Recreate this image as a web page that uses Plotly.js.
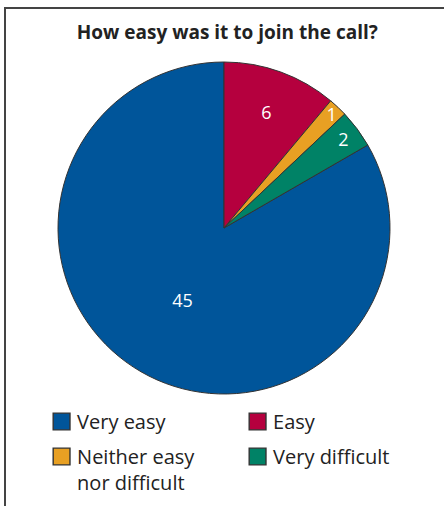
<!DOCTYPE html>
<html>
<head>
<meta charset="utf-8">
<script src="https://cdn.plot.ly/plotly-3.0.1.min.js"></script>
<style>
  html, body { margin: 0; padding: 0; background: #fff; }
  #wrap { position: relative; width: 444px; height: 506px; }
  #chart { width: 444px; height: 506px; }
  #frame { position: absolute; left: 4px; top: 7px; right: 0; bottom: 0;
           border-left: 2px solid #444; border-top: 2px solid #444; pointer-events: none; }
</style>
</head>
<body>
<div id="wrap"><div id="chart"></div><div id="frame"></div></div>
<script>
const categories = ["Very easy", "Easy", "Neither easy<br>nor difficult", "Very difficult"];
const counts = [45, 6, 1, 2];
const sliceColors = ["#00559a", "#b5003e", "#e8a023", "#008266"];
const chartTitle = "How easy was it to join the call?";

const FONT = "Open Sans, sans-serif";

const data = [{
  type: "pie",
  labels: categories,
  values: counts,
  sort: false,
  direction: "clockwise",
  rotation: 60,
  marker: { colors: sliceColors, line: { color: "#333333", width: 1 } },
  textinfo: "value",
  textposition: "inside",
  insidetextorientation: "horizontal",
  textfont: { color: "#ffffff", size: 18, family: FONT },
  hoverinfo: "label+value",
  domain: { x: [0, 1], y: [0, 1] }
}];

const layout = {
  width: 444,
  height: 506,
  margin: { l: 58, r: 54, t: 62, b: 112, autoexpand: false },
  paper_bgcolor: "#ffffff",
  font: { family: FONT, color: "#222222" },
  title: {
    text: "<b>" + chartTitle + "</b>",
    font: { size: 19, family: FONT, color: "#222222" },
    x: 0.51, xref: "paper", xanchor: "center",
    y: 1 - 32 / 506, yref: "container", yanchor: "middle"
  },
  uniformtext: { mode: "show", minsize: 18 },
  showlegend: true,
  legend: {
    orientation: "h",
    x: -0.063, xanchor: "left",
    y: -0.003, yanchor: "top",
    entrywidth: 151, entrywidthmode: "pixels",
    valign: "top",
    bgcolor: "rgba(0,0,0,0)",
    font: { size: 20, family: FONT, color: "#222222" },
    traceorder: "normal",
    itemclick: false
  }
};

Plotly.newPlot("chart", data, layout, { displayModeBar: false, staticPlot: true }).then(function (gd) {
  gd.querySelectorAll(".legend path.legendpie").forEach(function (p) {
    p.setAttribute("transform", "translate(24.5,0) scale(1.4)");
  });
  const sb = gd.querySelector(".legend .scrollbox");
  if (sb) sb.removeAttribute("clip-path");
  // adjust the spacing of the legend rows
  const items = [];
  gd.querySelectorAll(".legend g.traces").forEach(function (g) {
    const t = g.getAttribute("transform") || "";
    const m = t.match(/translate\(\s*([-\d.]+)[ ,]+([-\d.]+)\s*\)/);
    if (m) items.push({ g: g, x: m[1], y: parseFloat(m[2]) });
  });
  if (items.length) {
    const minY = Math.min.apply(null, items.map(function (it) { return it.y; }));
    items.forEach(function (it) {
      const dy = it.y > minY + 1 ? 13 : 7;
      it.g.setAttribute("transform", "translate(" + it.x + "," + (it.y + dy) + ")");
    });
  }
});
</script>
</body>
</html>
